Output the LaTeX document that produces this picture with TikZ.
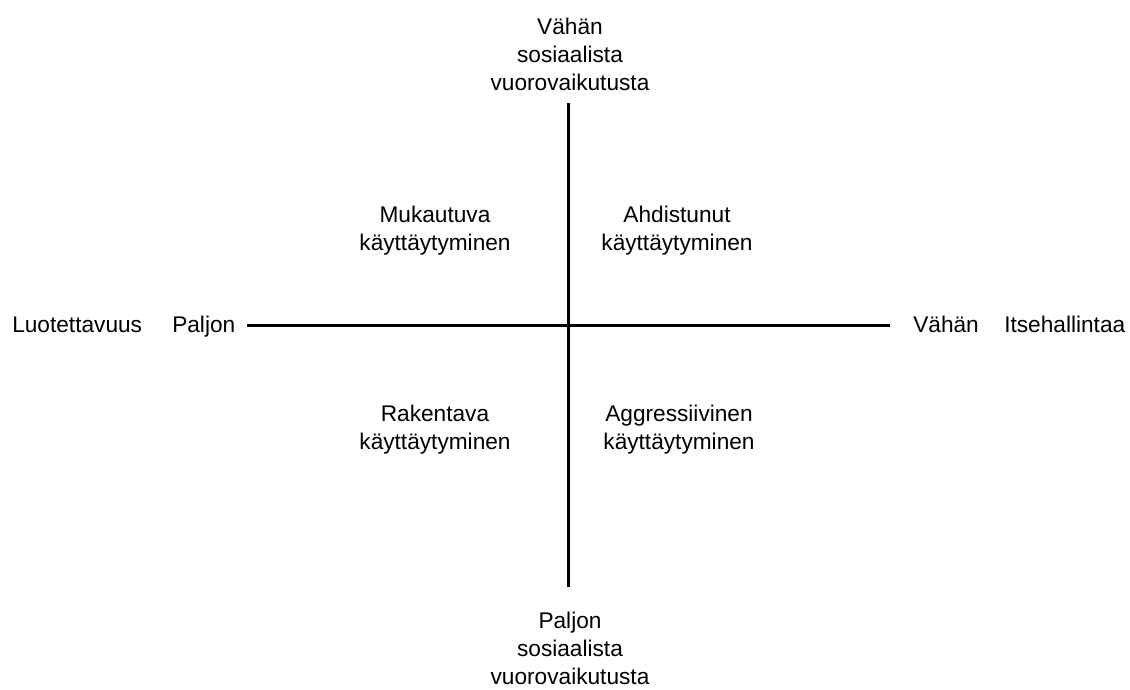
\documentclass[tikz,border=0pt]{standalone}
\usepackage{fontspec}
\setmainfont{Liberation Sans}
\begin{document}
\begin{tikzpicture}[x=0.75pt,y=-0.75pt,
  lbl/.style={inner sep=0pt,align=center,font=\fontsize{17}{21}\selectfont},
  axis/.style={line width=2.25pt}]
\useasboundingbox (0,0) rectangle (1130,689);
% axis end points
\coordinate (top) at (568,103);
\coordinate (bot) at (568,587);
\coordinate (lft) at (247,325);
\coordinate (rgt) at (890,325);
\draw[axis] (top) -- (bot);
\draw[axis] (lft) -- (rgt);
% axis labels
\node[lbl] (ttop) at (570,54) {Vähän\\sosiaalista\\vuorovaikutusta};
\node[lbl] (tbot) at (570,648) {Paljon\\sosiaalista\\vuorovaikutusta};
\node[lbl,anchor=base west] (luot) at (12,332) {Luotettavuus};
\node[lbl,anchor=base west] (paljon) at (172,332) {Paljon};
\node[lbl,anchor=base west] (vahan) at (913,332) {Vähän};
\node[lbl,anchor=base west] (itse) at (1004,332) {Itsehallintaa};
% quadrant labels
\node[lbl] (q1) at (435,231) {Mukautuva\\käyttäytyminen};
\node[lbl] (q2) at (677,231) {Ahdistunut\\käyttäytyminen};
\node[lbl] (q3) at (435,430) {Rakentava\\käyttäytyminen};
\node[lbl] (q4) at (679,430) {Aggressiivinen\\käyttäytyminen};
\end{tikzpicture}
\end{document}
